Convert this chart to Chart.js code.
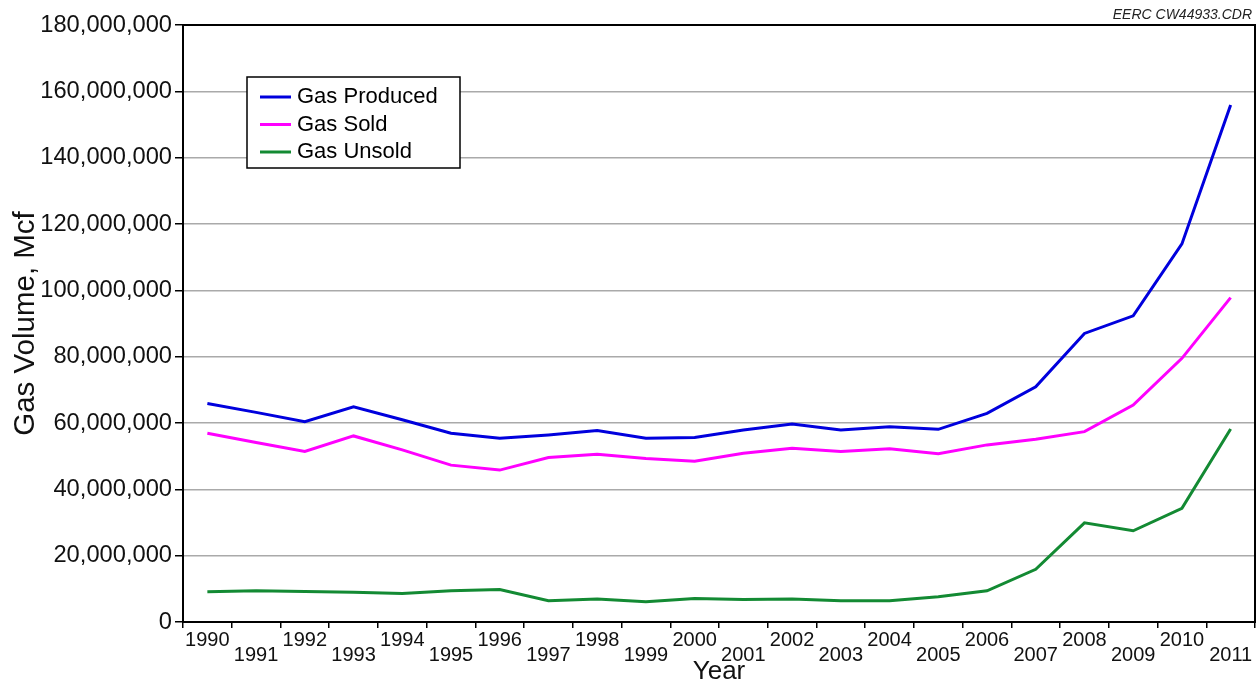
<!DOCTYPE html>
<html>
<head>
<meta charset="utf-8">
<title>Gas Volume</title>
<script src="https://cdn.jsdelivr.net/npm/chart.js@4.4.1/dist/chart.umd.min.js"></script>
<style>
  html, body { margin: 0; padding: 0; background: #fff; }
  #wrap { width: 1260px; height: 686px; position: relative; }
</style>
</head>
<body>
<div id="wrap"><canvas id="gasChart" width="1260" height="686"></canvas></div>
<script>
// Données (Mcf)
const years = [1990, 1991, 1992, 1993, 1994, 1995, 1996, 1997, 1998, 1999, 2000,
               2001, 2002, 2003, 2004, 2005, 2006, 2007, 2008, 2009, 2010, 2011];

const gasProduced = [65900000, 63200000, 60400000, 64900000, 61000000, 56900000, 55400000,
                     56400000, 57700000, 55400000, 55600000, 57900000, 59700000, 57900000,
                     58900000, 58100000, 62900000, 70900000, 87000000, 92300000, 114000000, 155900000];

const gasSold = [56900000, 54100000, 51400000, 56100000, 51900000, 47300000, 45800000,
                 49600000, 50600000, 49300000, 48500000, 50900000, 52400000, 51400000,
                 52200000, 50700000, 53400000, 55100000, 57400000, 65400000, 79500000, 97800000];

const gasUnsold = [9100000, 9400000, 9200000, 9000000, 8600000, 9400000, 9800000,
                   6400000, 6900000, 6100000, 7100000, 6800000, 6900000, 6400000,
                   6400000, 7600000, 9400000, 15900000, 29900000, 27500000, 34300000, 58200000];

// Étiquettes en quinconce : années impaires sur la deuxième ligne
const tickLabels = years.map(y => (y % 2 === 0 ? [String(y)] : ['', String(y)]));

const yMax = 180000000;
const yStep = 20000000;

const FONT = "Arial, 'Liberation Sans', sans-serif";

// Cadre, légende et référence du fichier
const decorPlugin = {
  id: 'decor',
  afterDraw(chart) {
    const { ctx, chartArea } = chart;
    ctx.save();

    // cadre du graphique
    ctx.strokeStyle = '#000';
    ctx.lineWidth = 2;
    ctx.strokeRect(chartArea.left, chartArea.top, chartArea.right - chartArea.left, chartArea.bottom - chartArea.top);

    // légende
    const lx = 247, ly = 77, lw = 213, lh = 91;
    ctx.fillStyle = '#fff';
    ctx.fillRect(lx, ly, lw, lh);
    ctx.lineWidth = 1.5;
    ctx.strokeRect(lx, ly, lw, lh);
    ctx.font = '22px ' + FONT;
    ctx.textBaseline = 'middle';
    chart.data.datasets.forEach((ds, i) => {
      const y = ly + 20 + i * 27.5;
      ctx.strokeStyle = ds.borderColor;
      ctx.lineWidth = 3;
      ctx.beginPath();
      ctx.moveTo(lx + 13, y);
      ctx.lineTo(lx + 44, y);
      ctx.stroke();
      ctx.fillStyle = '#000';
      ctx.fillText(ds.label, lx + 50, y);
    });

    // référence en haut à droite
    ctx.font = 'italic 14px ' + FONT;
    ctx.fillStyle = '#222';
    ctx.textAlign = 'right';
    ctx.textBaseline = 'alphabetic';
    ctx.fillText('EERC CW44933.CDR', 1252, 19);

    ctx.restore();
  }
};

new Chart(document.getElementById('gasChart'), {
  type: 'line',
  data: {
    labels: tickLabels,
    datasets: [
      { label: 'Gas Produced', data: gasProduced, borderColor: '#0000dd' },
      { label: 'Gas Sold', data: gasSold, borderColor: '#ff00ff' },
      { label: 'Gas Unsold', data: gasUnsold, borderColor: '#138a33' }
    ].map(ds => ({ ...ds, borderWidth: 3, pointRadius: 0, tension: 0, fill: false }))
  },
  options: {
    responsive: false,
    animation: false,
    layout: { padding: { top: 25, right: 5, left: 0, bottom: 0 } },
    plugins: {
      legend: { display: false },
      tooltip: { enabled: false }
    },
    scales: {
      x: {
        offset: true,
        grid: { display: true, drawOnChartArea: false, offset: true, tickLength: 6, color: '#000', lineWidth: 1.5 },
        border: { display: true, color: '#000', width: 2 },
        ticks: {
          autoSkip: false,
          maxRotation: 0,
          padding: 5,
          color: '#111',
          font: { family: FONT, size: 20, lineHeight: 0.75 }
        },
        title: {
          display: true,
          text: 'Year',
          color: '#111',
          font: { family: FONT, size: 26, lineHeight: 1 },
          padding: { top: 0, bottom: 1 }
        },
        afterFit(scale) { scale.height = 64; }
      },
      y: {
        min: 0,
        max: yMax,
        grid: { color: '#aaa', lineWidth: 1.5, tickLength: 8, tickColor: '#000', tickWidth: 1.5 },
        border: { display: true, color: '#000', width: 2 },
        ticks: {
          stepSize: yStep,
          padding: 3,
          color: '#111',
          font: { family: FONT, size: 23.7 },
          callback: v => v.toLocaleString('en-US')
        },
        title: {
          display: true,
          text: 'Gas Volume, Mcf',
          color: '#111',
          font: { family: FONT, size: 29.5, lineHeight: 1.2 },
          padding: { top: 8, bottom: 0 }
        },
        afterFit(scale) { scale.width = 183; }
      }
    }
  },
  plugins: [decorPlugin]
});
</script>
</body>
</html>
